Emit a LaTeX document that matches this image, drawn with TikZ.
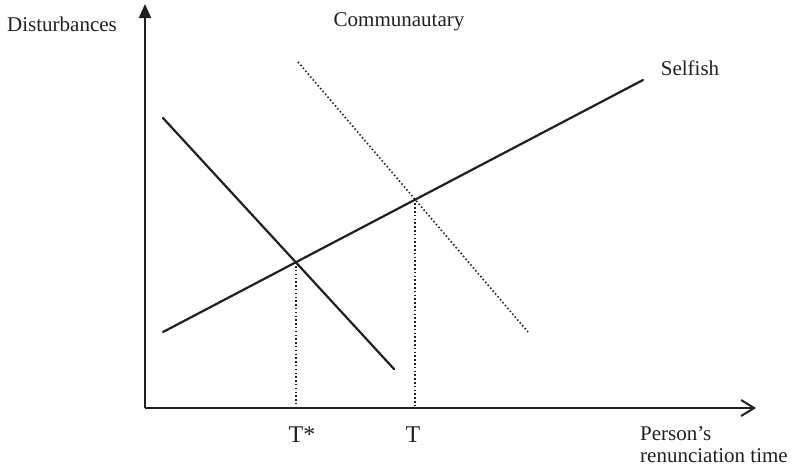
\documentclass[tikz,border=0pt]{standalone}
\usepackage{fontspec}
\setmainfont{Liberation Serif}
\usetikzlibrary{arrows.meta}
\definecolor{ink}{HTML}{231F20}
\tikzset{
  axis/.style={line width=2pt, draw=ink},
  curve/.style={line width=2.2pt, draw=ink, line cap=round},
  dotline/.style={line width=1.6pt, draw=ink, dash pattern=on 1.5pt off 2.3pt},
  lbl/.style={font=\fontsize{21}{22}\selectfont, text=ink, inner sep=0pt},
  tlbl/.style={font=\fontsize{24}{28}\selectfont, text=ink, inner sep=0pt, anchor=base},
}

\begin{document}
\begin{tikzpicture}[x=1pt, y=-1pt]
  \useasboundingbox (0,0) rectangle (795,467);
  % axes
  \coordinate (o) at (145,408);
  \coordinate (ytip) at (145,4);
  \coordinate (xtip) at (756,408);
  \draw[axis, -{Triangle[length=14pt, width=12pt]}] (o) -- (ytip);
  \draw[axis, -{Straight Barb[length=13pt, width=16pt, line width=2pt]}] (o) -- (xtip);
  % curves
  \coordinate (s1) at (163,332);  \coordinate (s2) at (643,80);
  \coordinate (d1) at (163,118);  \coordinate (d2) at (394,369);
  \coordinate (c1) at (298,62);   \coordinate (c2) at (528,332);
  \draw[curve] (s1) -- (s2);
  \draw[curve] (d1) -- (d2);
  \draw[dotline] (c1) -- (c2);
  % equilibria
  \coordinate (eq1) at (intersection of s1--s2 and d1--d2);
  \coordinate (eq2) at (intersection of s1--s2 and c1--c2);
  \draw[dotline] (eq1) -- (eq1 |- o);
  \draw[dotline] (eq2) -- (eq2 |- o);
  % labels
  \node[lbl] (ylab) at (62,24) {Disturbances};
  \node[lbl] (clab) at (399,22) {Communautary};
  \node[lbl] (slab) at (690,68) {Selfish};
  \node[tlbl] (tstar) at (302,442) {T*};
  \node[tlbl] (t) at (413,442) {T};
  \node[lbl, align=left, anchor=north west] (xlab) at (640,426) {Person's\\renunciation time};
\end{tikzpicture}
\end{document}
